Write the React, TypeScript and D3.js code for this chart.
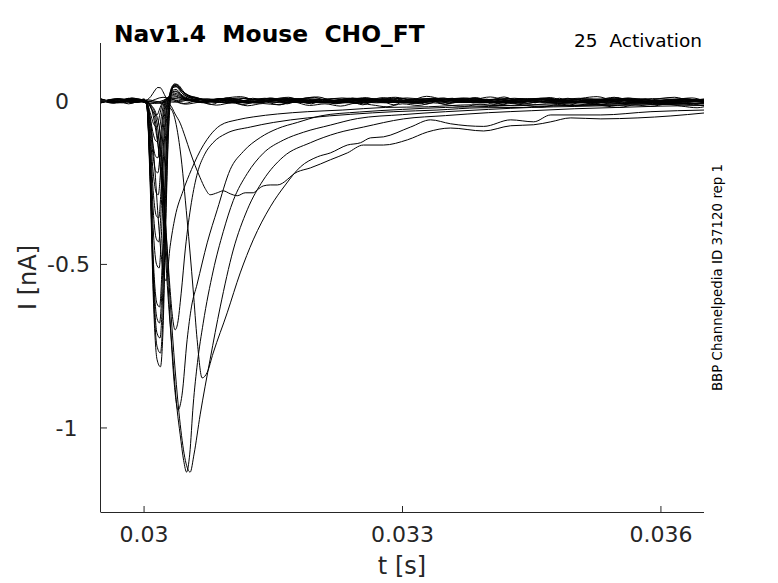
import React from "react";
import * as d3 from "d3";

// time in ms, current in nA
type P = [number, number];

const xTicks = [30, 33, 36];
const xTickLabels = ["0.03", "0.033", "0.036"];
const yTicks = [-1, -0.5, 0];
const yTickLabels = ["-1", "-0.5", "0"];

const F01: P[] = [[29.5,0.006],[29.68,-0.004],[29.85,0.008],[30.0,0.002],[30.03,-0.01],[30.07,-0.25],[30.11,-0.62],[30.15,-0.79],[30.19,-0.813],[30.22,-0.70],[30.25,-0.40],[30.28,-0.12],[30.31,0.01],[30.35,0.048],[30.40,0.04],[30.48,0.02],[30.6,0.008],[30.8,-0.002],[31.1,0.009],[31.5,-0.004],[31.9,0.007],[32.4,-0.006],[32.9,0.008],[33.4,-0.003],[33.9,0.006],[34.4,-0.007],[34.9,0.005],[35.4,-0.004],[35.9,0.007],[36.5,-0.003]];
const F02: P[] = [[29.5,-0.003],[29.7,0.007],[29.88,-0.005],[30.0,0.004],[30.03,-0.01],[30.07,-0.23],[30.11,-0.59],[30.15,-0.75],[30.19,-0.771],[30.22,-0.65],[30.25,-0.36],[30.28,-0.10],[30.31,0.015],[30.35,0.052],[30.39,0.05],[30.47,0.025],[30.6,0.01],[30.75,0.0],[31.0,-0.006],[31.4,0.008],[31.85,-0.005],[32.3,0.009],[32.8,-0.006],[33.3,0.007],[33.8,-0.004],[34.3,0.008],[34.8,-0.006],[35.3,0.006],[35.8,-0.005],[36.2,0.006],[36.5,0.001]];
const F03: P[] = [[29.5,0.002],[29.65,-0.006],[29.82,0.005],[30.0,-0.003],[30.03,-0.012],[30.07,-0.22],[30.11,-0.56],[30.15,-0.71],[30.185,-0.725],[30.215,-0.60],[30.245,-0.33],[30.275,-0.09],[30.30,0.01],[30.34,0.045],[30.38,0.048],[30.45,0.028],[30.58,0.01],[30.72,0.002],[30.95,0.008],[31.3,-0.005],[31.75,0.006],[32.2,-0.007],[32.7,0.005],[33.2,-0.006],[33.7,0.009],[34.2,-0.004],[34.7,0.006],[35.2,-0.007],[35.7,0.004],[36.1,-0.004],[36.5,0.004]];
const F04: P[] = [[29.5,-0.005],[29.72,0.004],[29.9,-0.002],[30.0,0.006],[30.03,-0.01],[30.07,-0.21],[30.11,-0.53],[30.15,-0.665],[30.18,-0.679],[30.21,-0.56],[30.24,-0.30],[30.27,-0.08],[30.30,0.012],[30.34,0.042],[30.38,0.044],[30.45,0.022],[30.57,0.006],[30.7,-0.004],[30.9,0.006],[31.2,-0.007],[31.65,0.005],[32.1,-0.004],[32.6,0.008],[33.1,-0.005],[33.6,0.004],[34.1,-0.007],[34.6,0.007],[35.1,-0.003],[35.6,0.006],[36.0,-0.006],[36.5,0.0]];
const F05: P[] = [[29.5,0.004],[29.66,-0.002],[29.84,0.007],[30.0,-0.004],[30.03,-0.01],[30.07,-0.2],[30.11,-0.5],[30.15,-0.62],[30.18,-0.63],[30.21,-0.5],[30.24,-0.26],[30.27,-0.06],[30.30,0.018],[30.33,0.046],[30.37,0.05],[30.44,0.03],[30.55,0.012],[30.7,0.003],[30.85,-0.005],[31.15,0.007],[31.6,-0.006],[32.05,0.004],[32.55,-0.005],[33.05,0.009],[33.55,-0.006],[34.05,0.005],[34.55,-0.003],[35.05,0.008],[35.55,-0.006],[36.05,0.003],[36.5,-0.005]];
const F07: P[] = [[29.5,-0.002],[29.7,0.006],[29.86,-0.006],[30.0,0.003],[30.03,-0.008],[30.07,-0.17],[30.11,-0.41],[30.145,-0.50],[30.175,-0.511],[30.205,-0.39],[30.235,-0.19],[30.265,-0.04],[30.29,0.012],[30.33,0.04],[30.37,0.043],[30.44,0.024],[30.55,0.008],[30.68,-0.002],[30.88,0.007],[31.25,-0.005],[31.7,0.008],[32.15,-0.006],[32.65,0.005],[33.15,-0.004],[33.65,0.007],[34.15,-0.006],[34.65,0.004],[35.15,-0.005],[35.65,0.008],[36.1,-0.003],[36.5,0.003]];
const F08: P[] = [[29.5,0.005],[29.67,-0.005],[29.83,0.003],[30.0,-0.002],[30.03,-0.008],[30.07,-0.15],[30.11,-0.35],[30.14,-0.42],[30.17,-0.431],[30.2,-0.32],[30.23,-0.15],[30.26,-0.03],[30.29,0.01],[30.33,0.032],[30.37,0.035],[30.44,0.018],[30.56,0.004],[30.7,-0.005],[30.92,0.006],[31.35,-0.004],[31.8,0.007],[32.25,-0.007],[32.75,0.004],[33.25,-0.003],[33.75,0.008],[34.25,-0.005],[34.75,0.005],[35.25,-0.006],[35.75,0.005],[36.2,-0.004],[36.5,0.002]];
const F09: P[] = [[29.5,-0.004],[29.71,0.005],[29.88,-0.003],[30.0,0.005],[30.03,-0.006],[30.07,-0.12],[30.11,-0.29],[30.14,-0.35],[30.17,-0.358],[30.2,-0.26],[30.23,-0.11],[30.26,-0.02],[30.29,0.01],[30.33,0.028],[30.37,0.03],[30.44,0.015],[30.56,0.003],[30.72,0.006],[30.95,-0.006],[31.3,0.005],[31.75,-0.004],[32.2,0.007],[32.7,-0.006],[33.2,0.004],[33.7,-0.005],[34.2,0.007],[34.7,-0.004],[35.2,0.006],[35.7,-0.007],[36.15,0.004],[36.5,-0.002]];
const F10: P[] = [[29.5,0.003],[29.69,-0.006],[29.87,0.004],[30.0,-0.003],[30.03,-0.006],[30.07,-0.1],[30.11,-0.23],[30.14,-0.28],[30.165,-0.287],[30.195,-0.2],[30.225,-0.08],[30.255,-0.01],[30.29,0.012],[30.33,0.026],[30.37,0.028],[30.44,0.014],[30.55,0.002],[30.7,-0.004],[30.9,0.007],[31.2,-0.006],[31.65,0.006],[32.1,-0.005],[32.6,0.006],[33.1,-0.007],[33.6,0.005],[34.1,-0.003],[34.6,0.008],[35.1,-0.005],[35.6,0.004],[36.05,-0.005],[36.5,0.004]];
const F11: P[] = [[29.5,-0.006],[29.73,0.003],[29.9,-0.004],[30.0,0.002],[30.03,-0.005],[30.07,-0.08],[30.11,-0.18],[30.135,-0.215],[30.16,-0.22],[30.19,-0.15],[30.22,-0.06],[30.25,-0.005],[30.29,0.014],[30.33,0.024],[30.38,0.022],[30.46,0.01],[30.58,0.0],[30.75,0.006],[31.0,-0.005],[31.45,0.007],[31.9,-0.006],[32.35,0.005],[32.85,-0.004],[33.35,0.008],[33.85,-0.006],[34.35,0.004],[34.85,-0.007],[35.35,0.005],[35.85,-0.003],[36.25,0.006],[36.5,0.0]];
const F12: P[] = [[29.5,0.004],[29.66,-0.003],[29.84,0.006],[30.0,-0.004],[30.03,-0.005],[30.07,-0.065],[30.11,-0.145],[30.135,-0.17],[30.16,-0.174],[30.19,-0.11],[30.22,-0.04],[30.25,0.0],[30.29,0.012],[30.33,0.02],[30.38,0.018],[30.46,0.008],[30.6,-0.003],[30.8,0.005],[31.1,-0.006],[31.55,0.004],[32.0,-0.005],[32.45,0.008],[32.95,-0.004],[33.45,0.005],[33.95,-0.006],[34.45,0.007],[34.95,-0.004],[35.45,0.006],[35.95,-0.006],[36.3,0.003],[36.5,-0.003]];
const F13: P[] = [[29.5,-0.003],[29.7,0.005],[29.86,-0.005],[30.0,0.004],[30.03,-0.004],[30.07,-0.05],[30.11,-0.105],[30.135,-0.122],[30.155,-0.125],[30.185,-0.075],[30.215,-0.025],[30.245,0.002],[30.29,0.012],[30.34,0.016],[30.4,0.012],[30.5,0.004],[30.65,-0.004],[30.85,0.006],[31.15,-0.004],[31.6,0.007],[32.05,-0.006],[32.5,0.004],[33.0,-0.005],[33.5,0.007],[34.0,-0.004],[34.5,0.005],[35.0,-0.006],[35.5,0.007],[36.0,-0.004],[36.5,0.004]];
const F14: P[] = [[29.5,0.002],[29.68,-0.005],[29.85,0.004],[30.0,-0.002],[30.03,-0.004],[30.07,-0.035],[30.11,-0.07],[30.15,-0.08],[30.18,-0.045],[30.21,-0.012],[30.25,0.006],[30.3,0.01],[30.36,0.012],[30.44,0.007],[30.56,0.0],[30.7,-0.006],[30.86,0.005],[31.02,-0.002],[31.18,0.009],[31.34,-0.006],[31.5,0.003],[31.66,-0.009],[31.82,0.006],[31.98,0.011],[32.14,-0.003],[32.3,0.004],[32.46,-0.008],[32.62,0.002],[32.78,0.01],[32.94,-0.004],[33.1,0.006],[33.26,-0.01],[33.42,0.001],[33.58,0.008],[33.74,-0.005],[33.9,0.004],[34.06,-0.011],[34.22,0.0],[34.38,0.007],[34.54,-0.006],[34.7,0.009],[34.86,-0.002],[35.02,0.005],[35.18,-0.009],[35.34,0.003],[35.5,0.01],[35.66,-0.004],[35.82,0.006],[35.98,-0.008],[36.14,0.002],[36.3,-0.005],[36.5,0.003]];
const F15: P[] = [[29.5,-0.005],[29.72,0.004],[29.9,-0.003],[30.0,0.003],[30.04,-0.005],[30.08,-0.022],[30.12,-0.039],[30.15,-0.043],[30.18,-0.025],[30.21,-0.006],[30.25,0.004],[30.32,0.008],[30.4,0.006],[30.52,0.0],[30.66,0.007],[30.82,-0.004],[30.98,0.003],[31.14,-0.011],[31.3,-0.002],[31.46,0.008],[31.62,-0.005],[31.78,0.002],[31.94,-0.009],[32.1,0.006],[32.26,-0.001],[32.42,0.009],[32.58,-0.007],[32.74,0.0],[32.9,-0.012],[33.06,0.004],[33.22,-0.003],[33.38,0.007],[33.54,-0.008],[33.7,0.002],[33.86,0.01],[34.02,-0.004],[34.18,0.005],[34.34,-0.01],[34.5,0.001],[34.66,-0.006],[34.82,0.008],[34.98,-0.003],[35.14,0.004],[35.3,-0.011],[35.46,-0.002],[35.62,0.006],[35.78,-0.007],[35.94,0.003],[36.1,-0.004],[36.26,0.007],[36.5,-0.005]];
const OUT: P[] = [[29.5,0.003],[29.66,-0.006],[29.82,0.008],[29.96,-0.002],[30.04,0.004],[30.08,0.014],[30.12,0.03],[30.16,0.041],[30.19,0.04],[30.22,0.028],[30.25,0.012],[30.28,0.002],[30.33,-0.004],[30.42,-0.002],[30.6,0.006],[30.78,-0.004],[30.96,0.009],[31.14,0.002],[31.32,-0.007],[31.5,0.005],[31.68,0.011],[31.86,-0.002],[32.04,0.006],[32.22,-0.006],[32.4,0.004],[32.58,0.01],[32.76,-0.003],[32.94,0.005],[33.12,-0.008],[33.3,0.003],[33.48,0.009],[33.66,-0.004],[33.84,0.004],[34.02,0.012],[34.2,0.001],[34.38,-0.006],[34.56,0.007],[34.74,-0.002],[34.92,0.008],[35.1,-0.005],[35.28,0.003],[35.46,0.011],[35.64,-0.003],[35.82,0.005],[36.0,-0.007],[36.18,0.004],[36.36,0.009],[36.5,0.0]];
const N1: P[] = [[29.5,0.006],[29.68,-0.004],[29.86,0.009],[30.04,-0.002],[30.22,0.011],[30.4,0.001],[30.58,0.012],[30.76,-0.003],[30.94,0.008],[31.12,0.013],[31.3,0.002],[31.48,0.009],[31.66,-0.004],[31.84,0.007],[32.02,0.012],[32.2,0.0],[32.38,0.008],[32.56,-0.005],[32.74,0.006],[32.92,0.011],[33.1,0.003],[33.28,0.014],[33.46,0.005],[33.64,-0.002],[33.82,0.009],[34.0,0.002],[34.18,0.012],[34.36,-0.003],[34.54,0.006],[34.72,0.01],[34.9,-0.001],[35.08,0.008],[35.26,0.013],[35.44,0.003],[35.62,0.009],[35.8,-0.002],[35.98,0.007],[36.16,0.011],[36.34,0.002],[36.5,0.006]];
const N2: P[] = [[29.5,-0.006],[29.66,0.003],[29.82,-0.009],[29.98,0.001],[30.14,-0.004],[30.3,0.007],[30.46,-0.008],[30.62,0.0],[30.78,-0.011],[30.94,0.004],[31.1,-0.006],[31.26,0.008],[31.42,-0.003],[31.58,-0.012],[31.74,0.002],[31.9,-0.007],[32.06,0.005],[32.22,-0.009],[32.38,-0.001],[32.54,-0.012],[32.7,0.003],[32.86,-0.005],[33.02,0.006],[33.18,-0.008],[33.34,0.0],[33.5,-0.01],[33.66,0.004],[33.82,-0.006],[33.98,0.005],[34.14,-0.011],[34.3,-0.002],[34.46,-0.008],[34.62,0.004],[34.78,-0.005],[34.94,-0.013],[35.1,0.001],[35.26,-0.007],[35.42,0.003],[35.58,-0.009],[35.74,-0.002],[35.9,-0.011],[36.06,0.002],[36.22,-0.006],[36.38,-0.012],[36.5,-0.004]];
const N3: P[] = [[29.5,0.002],[29.64,-0.007],[29.8,0.004],[29.96,-0.003],[30.12,-0.008],[30.3,0.001],[30.48,-0.01],[30.66,-0.004],[30.84,-0.013],[31.02,-0.006],[31.2,-0.015],[31.38,-0.008],[31.56,-0.012],[31.74,-0.004],[31.92,-0.014],[32.1,-0.009],[32.28,-0.016],[32.46,-0.007],[32.64,-0.012],[32.82,-0.018],[33.0,-0.009],[33.18,-0.014],[33.36,-0.006],[33.54,-0.013],[33.72,-0.017],[33.9,-0.01],[34.08,-0.015],[34.26,-0.008],[34.44,-0.014],[34.62,-0.019],[34.8,-0.011],[34.98,-0.016],[35.16,-0.009],[35.34,-0.015],[35.52,-0.02],[35.7,-0.012],[35.88,-0.017],[36.06,-0.01],[36.24,-0.016],[36.42,-0.021],[36.5,-0.018]];
const S6: P[] = [[29.5,-0.004],[29.76,0.005],[29.92,-0.003],[30.02,0.0],[30.07,-0.05],[30.12,-0.19],[30.17,-0.38],[30.215,-0.51],[30.256,-0.55],[30.302,-0.446],[30.36,-0.355],[30.453,-0.275],[30.55,-0.21],[30.616,-0.171],[30.767,-0.105],[30.884,-0.075],[31.081,-0.058],[31.267,-0.049],[31.55,-0.04],[31.9,-0.033],[32.3,-0.028],[32.8,-0.02],[33.3,-0.018],[33.8,-0.012],[34.3,-0.015],[34.8,-0.008],[35.3,-0.011],[35.8,-0.005],[36.2,-0.009],[36.5,-0.006]];
const S5: P[] = [[29.5,0.003],[29.7,-0.005],[29.9,0.004],[30.02,0.0],[30.08,-0.02],[30.13,-0.08],[30.19,-0.2],[30.25,-0.38],[30.30,-0.57],[30.33,-0.66],[30.36,-0.70],[30.39,-0.68],[30.43,-0.59],[30.48,-0.45],[30.55,-0.31],[30.62,-0.22],[30.70,-0.165],[30.80,-0.128],[30.95,-0.1],[31.233,-0.08],[31.5,-0.066],[31.9,-0.052],[32.4,-0.041],[32.9,-0.033],[33.4,-0.028],[33.9,-0.021],[34.4,-0.02],[34.9,-0.014],[35.4,-0.013],[35.9,-0.008],[36.5,-0.009]];
const S4: P[] = [[29.5,-0.002],[29.74,0.006],[29.93,-0.004],[30.02,0.0],[30.08,-0.015],[30.128,-0.04],[30.186,-0.15],[30.244,-0.39],[30.302,-0.67],[30.349,-0.86],[30.395,-0.945],[30.44,-0.9],[30.5,-0.73],[30.55,-0.63],[30.616,-0.56],[30.733,-0.434],[30.849,-0.333],[31.0,-0.21],[31.151,-0.155],[31.349,-0.112],[31.547,-0.085],[31.779,-0.066],[32.047,-0.046],[32.5,-0.034],[33.0,-0.026],[33.5,-0.02],[34.0,-0.017],[34.5,-0.012],[35.0,-0.014],[35.5,-0.008],[36.0,-0.01],[36.5,-0.006]];
const S3: P[] = [[29.5,0.005],[29.7,-0.003],[29.9,0.006],[30.02,0.0],[30.08,-0.02],[30.13,-0.06],[30.186,-0.2],[30.244,-0.45],[30.279,-0.6],[30.326,-0.76],[30.384,-0.945],[30.419,-1.02],[30.46,-1.1],[30.494,-1.135],[30.53,-1.08],[30.57,-0.93],[30.62,-0.8],[30.686,-0.68],[30.802,-0.52],[30.919,-0.4],[31.035,-0.305],[31.198,-0.222],[31.384,-0.16],[31.616,-0.12],[31.849,-0.096],[32.163,-0.074],[32.477,-0.054],[33.0,-0.042],[33.5,-0.033],[34.0,-0.026],[34.5,-0.02],[35.0,-0.017],[35.5,-0.014],[36.0,-0.011],[36.5,-0.009]];
const S2: P[] = [[29.5,-0.004],[29.73,0.004],[29.91,-0.005],[30.02,0.0],[30.09,-0.015],[30.14,-0.04],[30.186,-0.1],[30.244,-0.35],[30.30,-0.6],[30.36,-0.82],[30.42,-0.99],[30.48,-1.1],[30.535,-1.135],[30.58,-1.08],[30.651,-0.96],[30.767,-0.79],[30.884,-0.63],[31.035,-0.456],[31.198,-0.333],[31.384,-0.242],[31.616,-0.171],[31.93,-0.128],[32.244,-0.098],[32.547,-0.08],[33.012,-0.055],[33.5,-0.045],[34.0,-0.036],[34.5,-0.03],[35.0,-0.024],[35.5,-0.02],[36.0,-0.016],[36.5,-0.014]];
const S1: P[] = [[29.5,0.002],[29.75,-0.006],[29.95,0.004],[30.05,-0.002],[30.15,-0.006],[30.25,-0.012],[30.326,-0.03],[30.419,-0.15],[30.5,-0.364],[30.57,-0.578],[30.616,-0.73],[30.674,-0.847],[30.733,-0.83],[30.802,-0.771],[30.965,-0.648],[31.116,-0.526],[31.267,-0.425],[31.465,-0.324],[31.64,-0.257],[31.814,-0.202],[32.012,-0.171],[32.163,-0.159],[32.36,-0.135],[32.512,-0.128],[32.628,-0.113],[32.779,-0.11],[33.093,-0.08],[33.326,-0.058],[33.558,-0.07],[33.942,-0.078],[34.256,-0.058],[34.523,-0.064],[34.721,-0.043],[35.302,-0.043],[35.884,-0.033],[36.5,-0.028]];
const B: P[] = [[29.5,-0.003],[29.72,0.005],[29.92,-0.004],[30.05,0.003],[30.15,-0.002],[30.25,-0.006],[30.302,-0.012],[30.36,-0.04],[30.419,-0.068],[30.477,-0.11],[30.535,-0.156],[30.593,-0.198],[30.651,-0.235],[30.709,-0.268],[30.767,-0.287],[30.849,-0.281],[30.919,-0.275],[31.0,-0.284],[31.081,-0.29],[31.174,-0.281],[31.267,-0.281],[31.314,-0.272],[31.384,-0.26],[31.465,-0.257],[31.547,-0.257],[31.779,-0.217],[31.93,-0.205],[32.163,-0.18],[32.36,-0.159],[32.547,-0.135],[32.779,-0.135],[33.058,-0.119],[33.291,-0.095],[33.558,-0.083],[33.942,-0.092],[34.256,-0.076],[34.523,-0.073],[34.721,-0.064],[34.953,-0.052],[35.302,-0.055],[35.733,-0.052],[36.116,-0.046],[36.5,-0.037]];

const traces: P[][] = [N1, N2, N3, B, S1, S2, S3, S4, S5, S6, F01, F02, F03, F04, F05, F07, F08, F09, F10, F11, F12, F13, F14, F15, OUT];

const W = 778;
const H = 583;
const left = 101, right = 704, top = 43, bottom = 512;
const font = "DejaVu Sans, Liberation Sans, sans-serif";
const axisColor = "#262626";
const yTickLabelX = [55.5, 47, 55];

export default function App() {
  const x = d3.scaleLinear().domain([29.5, 36.5]).range([left, right]);
  const y = d3.scaleLinear().domain([-1.257, 0.177]).range([bottom, top]);
  const line = d3
    .line<P>()
    .x((d) => x(d[0]))
    .y((d) => y(d[1]))
    .curve(d3.curveMonotoneX);

  return (
    <svg
      width={W}
      height={H}
      viewBox={`0 0 ${W} ${H}`}
      style={{ position: "absolute", left: 0, top: 0, background: "#fff" }}
    >
      <rect x={0} y={0} width={W} height={H} fill="#fff" />
      <defs>
        <clipPath id="plotclip">
          <rect x={left} y={top} width={right - left} height={bottom - top} />
        </clipPath>
      </defs>
      <g clipPath="url(#plotclip)">
        {traces.map((t, i) => (
          <path key={i} d={line(t) || ""} fill="none" stroke="#000" strokeWidth={1} />
        ))}
      </g>
      <line x1={left - 0.5} x2={left - 0.5} y1={top} y2={bottom} stroke={axisColor} strokeWidth={1} />
      <line x1={left - 0.5} x2={right} y1={bottom + 0.5} y2={bottom + 0.5} stroke={axisColor} strokeWidth={1} />
      {xTicks.map((v, i) => (
        <g key={"xt" + i}>
          <line x1={x(v)} x2={x(v)} y1={bottom} y2={bottom - 6} stroke={axisColor} strokeWidth={1} />
          <text x={x(v)} y={541.5} textAnchor="middle" fontFamily={font} fontSize={22} fill={axisColor}>
            {xTickLabels[i]}
          </text>
        </g>
      ))}
      {yTicks.map((v, i) => (
        <g key={"yt" + i}>
          <line x1={left} x2={left + 6} y1={y(v)} y2={y(v)} stroke={axisColor} strokeWidth={1} />
          <text x={yTickLabelX[i]} y={y(v) + 8} textAnchor="start" fontFamily={font} fontSize={22} fill={axisColor}>
            {yTickLabels[i]}
          </text>
        </g>
      ))}
      <text x={402} y={573.5} textAnchor="middle" fontFamily={font} fontSize={24} fill={axisColor}>
        t [s]
      </text>
      <text
        transform={`translate(35.5, 277.5) rotate(-90)`}
        textAnchor="middle"
        fontFamily={font}
        fontSize={24}
        fill={axisColor}
      >
        I [nA]
      </text>
      <text x={114} y={42} fontFamily={font} fontSize={23.4} fontWeight="bold" fill="#000" style={{ whiteSpace: "pre" }}>
        {"Nav1.4  Mouse  CHO_FT"}
      </text>
      <text x={702} y={46.5} textAnchor="end" fontFamily={font} fontSize={18.5} fill="#000" style={{ whiteSpace: "pre" }}>
        {"25  Activation"}
      </text>
      <text
        transform={`translate(721.5, 277.5) rotate(-90)`}
        textAnchor="middle"
        fontFamily={font}
        fontSize={13.4}
        fill="#000"
      >
        BBP Channelpedia ID 37120 rep 1
      </text>
    </svg>
  );
}
